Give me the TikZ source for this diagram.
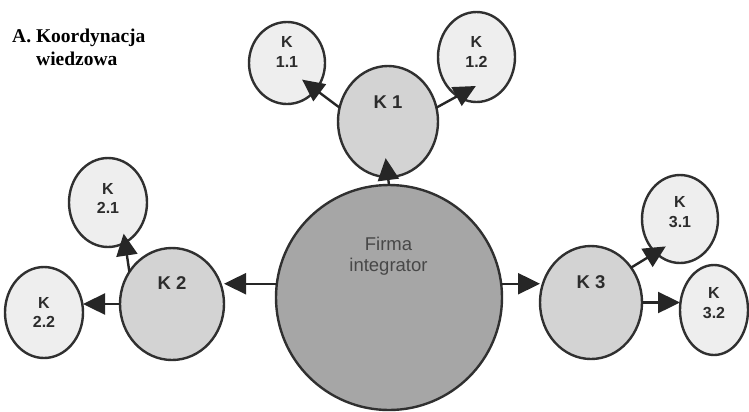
\documentclass[tikz,border=0pt]{standalone}
\usepackage{fontspec}
\setmainfont{Liberation Serif}
\newfontfamily\lsans{Liberation Sans}
\usetikzlibrary{shapes.geometric,arrows.meta}
\definecolor{edgec}{HTML}{303030}
\definecolor{arrc}{HTML}{262626}
\definecolor{bigfill}{HTML}{A6A6A6}
\definecolor{midfill}{HTML}{D3D3D3}
\definecolor{subfill}{HTML}{EEEEEE}
\definecolor{txtc}{HTML}{2C2C2C}
\tikzset{
  ell/.style={ellipse, draw=edgec, line width=2.4bp, inner sep=0pt, outer sep=0pt},
  bigc/.style={ell, fill=bigfill},
  midc/.style={ell, fill=midfill},
  subc/.style={ell, fill=subfill},
  midlbl/.style={inner sep=0pt, text=txtc, font=\lsans\bfseries\fontsize{18.5bp}{20bp}\selectfont},
  sublbl/.style={inner sep=0pt, text=txtc, align=center, font=\lsans\bfseries\fontsize{16bp}{19.5bp}\selectfont},
  biglbl/.style={inner sep=0pt, text=black!72, align=center, font=\lsans\fontsize{18.5bp}{21bp}\selectfont},
  arr/.style={draw=arrc, line width=2.4bp, -{Triangle[length=22bp,width=21bp]}}
}
\begin{document}
\begin{tikzpicture}[x=1bp,y=-1bp]
\useasboundingbox (0,0) rectangle (749,411);
% title
\node[anchor=north west, inner sep=0pt, align=left,
      font=\bfseries\fontsize{19.5bp}{23bp}\selectfont] (title) at (12,28.7)
  {A. Koordynacja\\\hspace*{24bp}wiedzowa};
% nodes
\node[bigc, minimum width=226bp, minimum height=225bp] (big) at (389,297.5) {};
\node[midc, minimum width=100bp, minimum height=111bp] (K1) at (388,121.5) {};
\node[subc, minimum width=76bp, minimum height=82bp] (K11) at (287,63) {};
\node[subc, minimum width=77bp, minimum height=90bp] (K12) at (476.5,57) {};
\node[midc, minimum width=104bp, minimum height=112bp] (K2) at (172,304) {};
\node[subc, minimum width=78bp, minimum height=89bp] (K21) at (108,202.5) {};
\node[subc, minimum width=78bp, minimum height=91bp] (K22) at (44,312.5) {};
\node[midc, minimum width=102bp, minimum height=113bp] (K3) at (591,302.5) {};
\node[subc, minimum width=76bp, minimum height=88bp] (K31) at (680,219) {};
\node[subc, minimum width=68bp, minimum height=90bp] (K32) at (714,310) {};
% labels
\node[biglbl] (tbig) at (388.5,256) {Firma\\integrator};
\node[midlbl] (t1) at ([yshift=19bp]K1.center) {K 1};
\node[midlbl] (t2) at ([yshift=21bp]K2.center) {K 2};
\node[midlbl] (t3) at ([yshift=20bp]K3.center) {K 3};
\node[sublbl] (t11) at ([yshift=11bp]K11.center) {K\\1.1};
\node[sublbl] (t12) at ([yshift=5bp]K12.center) {K\\1.2};
\node[sublbl] (t21) at ([yshift=4bp]K21.center) {K\\2.1};
\node[sublbl] (t22) at (K22.center) {K\\2.2};
\node[sublbl] (t31) at ([yshift=7bp]K31.center) {K\\3.1};
\node[sublbl] (t32) at ([yshift=7bp]K32.center) {K\\3.2};
% connectors
\draw[arr, shorten >=-19bp] (big.north) -- (K1.south);
\draw[arr, shorten >=-17bp] (K1.164) -- (K11.-43.6);
\draw[arr, shorten >=-21bp] (K1.16.5) -- (K12.244);
\draw[arr] (big.173.5) -- (big.173.5 -| K2.east);
\draw[arr, shorten >=-9bp] (K2.143.4) -- (K21.-67);
\draw[arr] (K2.west) -- (K2.west -| K22.east);
\draw[arr] (big.7) -- (big.7 -| K3.west);
\draw[arr, shorten >=-12bp] (K3.41.9) -- (K31.234.7);
\draw[arr] (K3.east) -- (K3.east -| K32.west);
\end{tikzpicture}
\end{document}
